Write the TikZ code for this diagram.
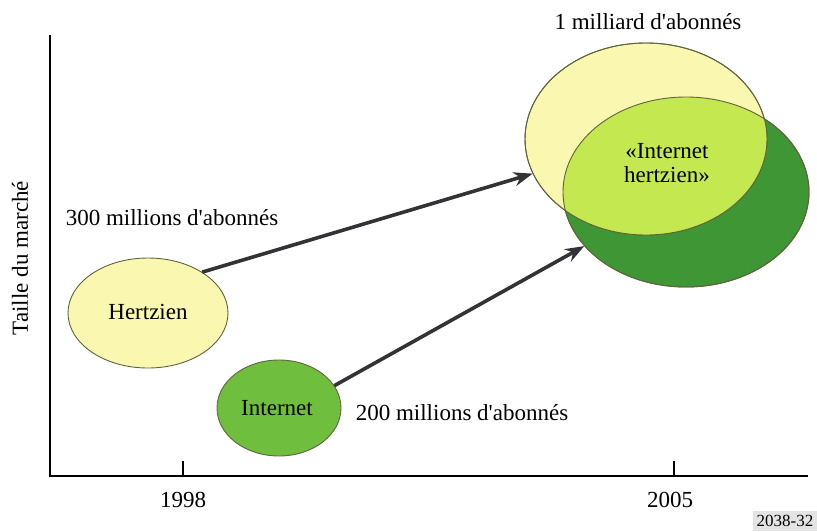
\documentclass[tikz,border=0pt]{standalone}
\usepackage{fontspec}
\setmainfont{Liberation Serif}
\usetikzlibrary{shapes.geometric,arrows.meta}
\definecolor{paleyellow}{RGB}{250,247,176}
\definecolor{netgreen}{RGB}{112,190,62}
\definecolor{darkgreen}{RGB}{62,150,52}
\definecolor{limegreen}{RGB}{196,232,80}
\definecolor{rimcol}{RGB}{95,100,60}
\definecolor{arrowgray}{RGB}{50,50,55}
\definecolor{tagbg}{RGB}{228,228,228}
\newcommand{\apo}{\textquotesingle}
\tikzset{
  lbl/.style={font=\fontsize{23}{26}\selectfont, inner sep=0pt},
  bubble/.style={ellipse, draw=rimcol, line width=0.9pt, inner sep=0pt},
  growth/.style={draw=arrowgray, line width=3.6pt, -{Stealth[length=19pt,width=14pt]}},
  axis/.style={draw=black, line width=2pt},
}
\begin{document}
\begin{tikzpicture}[x=1pt,y=-1pt]
\useasboundingbox (0,0) rectangle (817,531);

% axes
\coordinate (o) at (50,476);
\coordinate (ytop) at (50,35);
\coordinate (xend) at (808,476);
\draw[axis] (ytop) -- (o) -- (xend);
\coordinate (t1) at (183,476);
\coordinate (t2) at (674,476);
\draw[black, line width=1.3pt] (t1) -- ++(0,-15);
\draw[black, line width=1.3pt] (t2) -- ++(0,-15);
\node[lbl] (y1998) at (183,500) {1998};
\node[lbl] (y2005) at (670,500) {2005};
\node[lbl, rotate=90] (ylab) at (20,258) {Taille du marché};

% 2005 market: overlapping bubbles
\node[bubble, fill=darkgreen, minimum width=246pt, minimum height=190pt] (gb) at (686,192) {};
\node[bubble, fill=paleyellow, minimum width=242pt, minimum height=192pt] (yb) at (646,139) {};
\begin{scope}
  \clip (646,139) ellipse [x radius=121, y radius=96];
  \fill[limegreen] (686,192) ellipse [x radius=123, y radius=95];
\end{scope}
\draw[rimcol, line width=0.9pt] (686,192) ellipse [x radius=123, y radius=95];
\draw[rimcol, line width=0.9pt] (646,139) ellipse [x radius=121, y radius=96];
\node[lbl, align=center] (ih) at (667,163) {«Internet\\[-2pt]hertzien»};

% 1998 market
\node[bubble, fill=paleyellow, minimum width=160pt, minimum height=110pt] (hz) at (148,313) {};
\node[lbl] (hzt) at (148,312) {Hertzien};
\node[bubble, fill=netgreen, minimum width=124pt, minimum height=96pt] (net) at (279,408) {};
\node[lbl] (nett) at (277,408) {Internet};

% labels
\node[lbl] (l300) at (172,218) {300 millions d\apo abonnés};
\node[lbl] (l1g) at (648,22) {1 milliard d\apo abonnés};
\node[lbl] (l200) at (462,413) {200 millions d\apo abonnés};

% growth arrows
\draw[growth] (hz.37) -- (yb.197);
\draw[growth] (net.22) -- (gb.208);

% figure tag
\fill[tagbg] (753,511) rectangle (817,531);
\node[font=\fontsize{17}{17}\selectfont, inner sep=0pt] (tag) at (785,520.5) {2038-32};
\end{tikzpicture}
\end{document}
